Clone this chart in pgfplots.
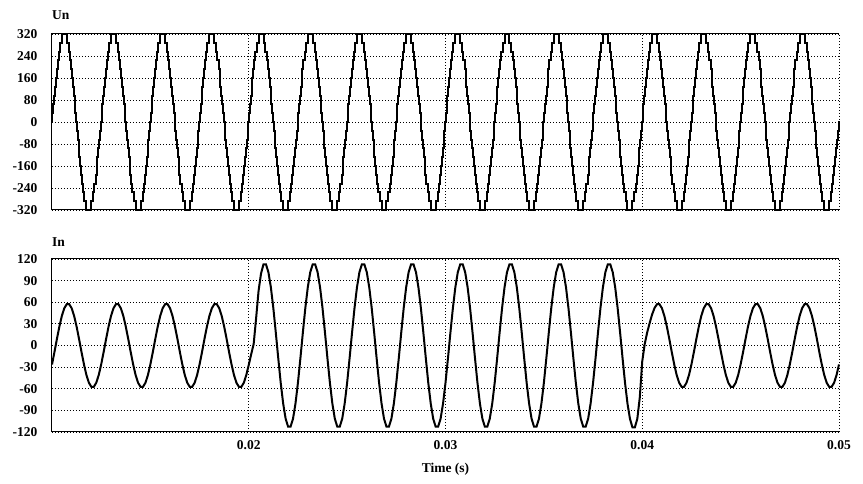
\documentclass[border=0pt]{standalone}
\usepackage{fontspec}
\setmainfont{Liberation Serif}
\usepackage{pgfplots}
\pgfplotsset{compat=1.18}
\newcommand\lblfont{\bfseries\fontsize{13.5}{15}\selectfont}
\pgfplotsset{
  myax/.style={
    scale only axis, width=787pt, anchor=south west,
    xmin=0.01, xmax=0.05, clip=false,
    xtick={0.02,0.03,0.04,0.05},
    scaled x ticks=false, scaled y ticks=false,
    axis line style={draw=none},
    major tick length=0pt,
    grid=major,
    major grid style={black, line width=0.8pt, dash pattern=on 1pt off 2pt},
    /pgf/number format/assume math mode=true,
    ticklabel style={font=\lblfont},
    yticklabel style={xshift=-11pt},
    xticklabel style={yshift=-5pt},
  }
}
\begin{document}
\begin{tikzpicture}
\path[use as bounding box] (0,0) rectangle (863pt,484pt);
% ---------------- Un ----------------
\begin{axis}[myax, at={(52pt,274pt)}, height=176pt,
  ymin=-320, ymax=320, ytick={-320,-240,-160,-80,0,80,160,240,320},
  xticklabels={}]
\addplot[const plot, black, line width=2pt] coordinates {
(0.01,0)
(0.01002,32)(0.01006,64)(0.01010,96)(0.01014,128)(0.01019,160)(0.01023,192)(0.01028,224)(0.01034,256)(0.01040,288)(0.01050,320)(0.01075,288)(0.01085,256)(0.01091,224)(0.01097,192)(0.01102,160)(0.01106,128)(0.01111,96)(0.01115,64)(0.01119,32)(0.01123,0)(0.01127,-32)(0.01131,-64)(0.01135,-96)(0.01139,-128)(0.01144,-160)(0.01148,-192)(0.01153,-224)(0.01159,-256)(0.01165,-288)(0.01175,-320)(0.01200,-288)(0.01210,-256)(0.01216,-224)(0.01222,-192)(0.01227,-160)(0.01231,-128)(0.01236,-96)(0.01240,-64)(0.01244,-32)(0.01248,0)
(0.01252,32)(0.01256,64)(0.01260,96)(0.01264,128)(0.01269,160)(0.01273,192)(0.01278,224)(0.01284,256)(0.01290,288)(0.01300,320)(0.01325,288)(0.01335,256)(0.01341,224)(0.01347,192)(0.01352,160)(0.01356,128)(0.01361,96)(0.01365,64)(0.01369,32)(0.01373,0)(0.01377,-32)(0.01381,-64)(0.01385,-96)(0.01389,-128)(0.01394,-160)(0.01398,-192)(0.01403,-224)(0.01409,-256)(0.01415,-288)(0.01425,-320)(0.01450,-288)(0.01460,-256)(0.01466,-224)(0.01472,-192)(0.01477,-160)(0.01481,-128)(0.01486,-96)(0.01490,-64)(0.01494,-32)(0.01498,0)
(0.01502,32)(0.01506,64)(0.01510,96)(0.01514,128)(0.01519,160)(0.01523,192)(0.01528,224)(0.01534,256)(0.01540,288)(0.01550,320)(0.01575,288)(0.01585,256)(0.01591,224)(0.01597,192)(0.01602,160)(0.01606,128)(0.01611,96)(0.01615,64)(0.01619,32)(0.01623,0)(0.01627,-32)(0.01631,-64)(0.01635,-96)(0.01639,-128)(0.01644,-160)(0.01648,-192)(0.01653,-224)(0.01659,-256)(0.01665,-288)(0.01675,-320)(0.01700,-288)(0.01710,-256)(0.01716,-224)(0.01722,-192)(0.01727,-160)(0.01731,-128)(0.01736,-96)(0.01740,-64)(0.01744,-32)(0.01748,0)
(0.01752,32)(0.01756,64)(0.01760,96)(0.01764,128)(0.01769,160)(0.01773,192)(0.01778,224)(0.01784,256)(0.01790,288)(0.01800,320)(0.01825,288)(0.01835,256)(0.01841,224)(0.01847,192)(0.01852,160)(0.01856,128)(0.01861,96)(0.01865,64)(0.01869,32)(0.01873,0)(0.01877,-32)(0.01881,-64)(0.01885,-96)(0.01889,-128)(0.01894,-160)(0.01898,-192)(0.01903,-224)(0.01909,-256)(0.01915,-288)(0.01925,-320)(0.01950,-288)(0.01960,-256)(0.01966,-224)(0.01972,-192)(0.01977,-160)(0.01981,-128)(0.01986,-96)(0.01990,-64)(0.01994,-32)(0.01998,0)
(0.02002,32)(0.02006,64)(0.02010,96)(0.02014,128)(0.02019,160)(0.02023,192)(0.02028,224)(0.02034,256)(0.02040,288)(0.02050,320)(0.02075,288)(0.02085,256)(0.02091,224)(0.02097,192)(0.02102,160)(0.02106,128)(0.02111,96)(0.02115,64)(0.02119,32)(0.02123,0)(0.02127,-32)(0.02131,-64)(0.02135,-96)(0.02139,-128)(0.02144,-160)(0.02148,-192)(0.02153,-224)(0.02159,-256)(0.02165,-288)(0.02175,-320)(0.02200,-288)(0.02210,-256)(0.02216,-224)(0.02222,-192)(0.02227,-160)(0.02231,-128)(0.02236,-96)(0.02240,-64)(0.02244,-32)(0.02248,0)
(0.02252,32)(0.02256,64)(0.02260,96)(0.02264,128)(0.02269,160)(0.02273,192)(0.02278,224)(0.02284,256)(0.02290,288)(0.02300,320)(0.02325,288)(0.02335,256)(0.02341,224)(0.02347,192)(0.02352,160)(0.02356,128)(0.02361,96)(0.02365,64)(0.02369,32)(0.02373,0)(0.02377,-32)(0.02381,-64)(0.02385,-96)(0.02389,-128)(0.02394,-160)(0.02398,-192)(0.02403,-224)(0.02409,-256)(0.02415,-288)(0.02425,-320)(0.02450,-288)(0.02460,-256)(0.02466,-224)(0.02472,-192)(0.02477,-160)(0.02481,-128)(0.02486,-96)(0.02490,-64)(0.02494,-32)(0.02498,0)
(0.02502,32)(0.02506,64)(0.02510,96)(0.02514,128)(0.02519,160)(0.02523,192)(0.02528,224)(0.02534,256)(0.02540,288)(0.02550,320)(0.02575,288)(0.02585,256)(0.02591,224)(0.02597,192)(0.02602,160)(0.02606,128)(0.02611,96)(0.02615,64)(0.02619,32)(0.02623,0)(0.02627,-32)(0.02631,-64)(0.02635,-96)(0.02639,-128)(0.02644,-160)(0.02648,-192)(0.02653,-224)(0.02659,-256)(0.02665,-288)(0.02675,-320)(0.02700,-288)(0.02710,-256)(0.02716,-224)(0.02722,-192)(0.02727,-160)(0.02731,-128)(0.02736,-96)(0.02740,-64)(0.02744,-32)(0.02748,0)
(0.02752,32)(0.02756,64)(0.02760,96)(0.02764,128)(0.02769,160)(0.02773,192)(0.02778,224)(0.02784,256)(0.02790,288)(0.02800,320)(0.02825,288)(0.02835,256)(0.02841,224)(0.02847,192)(0.02852,160)(0.02856,128)(0.02861,96)(0.02865,64)(0.02869,32)(0.02873,0)(0.02877,-32)(0.02881,-64)(0.02885,-96)(0.02889,-128)(0.02894,-160)(0.02898,-192)(0.02903,-224)(0.02909,-256)(0.02915,-288)(0.02925,-320)(0.02950,-288)(0.02960,-256)(0.02966,-224)(0.02972,-192)(0.02977,-160)(0.02981,-128)(0.02986,-96)(0.02990,-64)(0.02994,-32)(0.02998,0)
(0.03002,32)(0.03006,64)(0.03010,96)(0.03014,128)(0.03019,160)(0.03023,192)(0.03028,224)(0.03034,256)(0.03040,288)(0.03050,320)(0.03075,288)(0.03085,256)(0.03091,224)(0.03097,192)(0.03102,160)(0.03106,128)(0.03111,96)(0.03115,64)(0.03119,32)(0.03123,0)(0.03127,-32)(0.03131,-64)(0.03135,-96)(0.03139,-128)(0.03144,-160)(0.03148,-192)(0.03153,-224)(0.03159,-256)(0.03165,-288)(0.03175,-320)(0.03200,-288)(0.03210,-256)(0.03216,-224)(0.03222,-192)(0.03227,-160)(0.03231,-128)(0.03236,-96)(0.03240,-64)(0.03244,-32)(0.03248,0)
(0.03252,32)(0.03256,64)(0.03260,96)(0.03264,128)(0.03269,160)(0.03273,192)(0.03278,224)(0.03284,256)(0.03290,288)(0.03300,320)(0.03325,288)(0.03335,256)(0.03341,224)(0.03347,192)(0.03352,160)(0.03356,128)(0.03361,96)(0.03365,64)(0.03369,32)(0.03373,0)(0.03377,-32)(0.03381,-64)(0.03385,-96)(0.03389,-128)(0.03394,-160)(0.03398,-192)(0.03403,-224)(0.03409,-256)(0.03415,-288)(0.03425,-320)(0.03450,-288)(0.03460,-256)(0.03466,-224)(0.03472,-192)(0.03477,-160)(0.03481,-128)(0.03486,-96)(0.03490,-64)(0.03494,-32)(0.03498,0)
(0.03502,32)(0.03506,64)(0.03510,96)(0.03514,128)(0.03519,160)(0.03523,192)(0.03528,224)(0.03534,256)(0.03540,288)(0.03550,320)(0.03575,288)(0.03585,256)(0.03591,224)(0.03597,192)(0.03602,160)(0.03606,128)(0.03611,96)(0.03615,64)(0.03619,32)(0.03623,0)(0.03627,-32)(0.03631,-64)(0.03635,-96)(0.03639,-128)(0.03644,-160)(0.03648,-192)(0.03653,-224)(0.03659,-256)(0.03665,-288)(0.03675,-320)(0.03700,-288)(0.03710,-256)(0.03716,-224)(0.03722,-192)(0.03727,-160)(0.03731,-128)(0.03736,-96)(0.03740,-64)(0.03744,-32)(0.03748,0)
(0.03752,32)(0.03756,64)(0.03760,96)(0.03764,128)(0.03769,160)(0.03773,192)(0.03778,224)(0.03784,256)(0.03790,288)(0.03800,320)(0.03825,288)(0.03835,256)(0.03841,224)(0.03847,192)(0.03852,160)(0.03856,128)(0.03861,96)(0.03865,64)(0.03869,32)(0.03873,0)(0.03877,-32)(0.03881,-64)(0.03885,-96)(0.03889,-128)(0.03894,-160)(0.03898,-192)(0.03903,-224)(0.03909,-256)(0.03915,-288)(0.03925,-320)(0.03950,-288)(0.03960,-256)(0.03966,-224)(0.03972,-192)(0.03977,-160)(0.03981,-128)(0.03986,-96)(0.03990,-64)(0.03994,-32)(0.03998,0)
(0.04002,32)(0.04006,64)(0.04010,96)(0.04014,128)(0.04019,160)(0.04023,192)(0.04028,224)(0.04034,256)(0.04040,288)(0.04050,320)(0.04075,288)(0.04085,256)(0.04091,224)(0.04097,192)(0.04102,160)(0.04106,128)(0.04111,96)(0.04115,64)(0.04119,32)(0.04123,0)(0.04127,-32)(0.04131,-64)(0.04135,-96)(0.04139,-128)(0.04144,-160)(0.04148,-192)(0.04153,-224)(0.04159,-256)(0.04165,-288)(0.04175,-320)(0.04200,-288)(0.04210,-256)(0.04216,-224)(0.04222,-192)(0.04227,-160)(0.04231,-128)(0.04236,-96)(0.04240,-64)(0.04244,-32)(0.04248,0)
(0.04252,32)(0.04256,64)(0.04260,96)(0.04264,128)(0.04269,160)(0.04273,192)(0.04278,224)(0.04284,256)(0.04290,288)(0.04300,320)(0.04325,288)(0.04335,256)(0.04341,224)(0.04347,192)(0.04352,160)(0.04356,128)(0.04361,96)(0.04365,64)(0.04369,32)(0.04373,0)(0.04377,-32)(0.04381,-64)(0.04385,-96)(0.04389,-128)(0.04394,-160)(0.04398,-192)(0.04403,-224)(0.04409,-256)(0.04415,-288)(0.04425,-320)(0.04450,-288)(0.04460,-256)(0.04466,-224)(0.04472,-192)(0.04477,-160)(0.04481,-128)(0.04486,-96)(0.04490,-64)(0.04494,-32)(0.04498,0)
(0.04502,32)(0.04506,64)(0.04510,96)(0.04514,128)(0.04519,160)(0.04523,192)(0.04528,224)(0.04534,256)(0.04540,288)(0.04550,320)(0.04575,288)(0.04585,256)(0.04591,224)(0.04597,192)(0.04602,160)(0.04606,128)(0.04611,96)(0.04615,64)(0.04619,32)(0.04623,0)(0.04627,-32)(0.04631,-64)(0.04635,-96)(0.04639,-128)(0.04644,-160)(0.04648,-192)(0.04653,-224)(0.04659,-256)(0.04665,-288)(0.04675,-320)(0.04700,-288)(0.04710,-256)(0.04716,-224)(0.04722,-192)(0.04727,-160)(0.04731,-128)(0.04736,-96)(0.04740,-64)(0.04744,-32)(0.04748,0)
(0.04752,32)(0.04756,64)(0.04760,96)(0.04764,128)(0.04769,160)(0.04773,192)(0.04778,224)(0.04784,256)(0.04790,288)(0.04800,320)(0.04825,288)(0.04835,256)(0.04841,224)(0.04847,192)(0.04852,160)(0.04856,128)(0.04861,96)(0.04865,64)(0.04869,32)(0.04873,0)(0.04877,-32)(0.04881,-64)(0.04885,-96)(0.04889,-128)(0.04894,-160)(0.04898,-192)(0.04903,-224)(0.04909,-256)(0.04915,-288)(0.04925,-320)(0.04950,-288)(0.04960,-256)(0.04966,-224)(0.04972,-192)(0.04977,-160)(0.04981,-128)(0.04986,-96)(0.04990,-64)(0.04994,-32)(0.04998,0)
(0.05,0)
};
\draw[line width=1pt] (rel axis cs:1,1) -- (rel axis cs:0,1) -- (rel axis cs:0,0) -- (rel axis cs:1,0);
\end{axis}
% ---------------- In ----------------
\begin{axis}[myax, at={(52pt,52pt)}, height=173pt,
  ymin=-120, ymax=120, ytick={-120,-90,-60,-30,0,30,60,90,120},
  xticklabels={0.02,0.03,0.04,0.05},
  xlabel={Time (s)},
  xlabel style={at={(axis description cs:0.5,0)}, anchor=center, yshift=-37pt, font=\lblfont}]
\addplot[black, line width=2pt] coordinates {
(0.01,-26.3) (0.010125,-9.1) (0.01025,9.1) (0.010375,26.3) (0.0105,41.0) (0.010625,51.7) (0.01075,57.3) (0.010875,57.3) (0.011,51.7) (0.011125,41.0) (0.01125,26.3) (0.011375,9.1) (0.0115,-9.1) (0.011625,-26.3) (0.01175,-41.0) (0.011875,-51.7) (0.012,-57.3) (0.012125,-57.3) (0.01225,-51.7) (0.012375,-41.0)
(0.0125,-26.3) (0.012625,-9.1) (0.01275,9.1) (0.012875,26.3) (0.013,41.0) (0.013125,51.7) (0.01325,57.3) (0.013375,57.3) (0.0135,51.7) (0.013625,41.0) (0.01375,26.3) (0.013875,9.1) (0.014,-9.1) (0.014125,-26.3) (0.01425,-41.0) (0.014375,-51.7) (0.0145,-57.3) (0.014625,-57.3) (0.01475,-51.7) (0.014875,-41.0)
(0.015,-26.3) (0.015125,-9.1) (0.01525,9.1) (0.015375,26.3) (0.0155,41.0) (0.015625,51.7) (0.01575,57.3) (0.015875,57.3) (0.016,51.7) (0.016125,41.0) (0.01625,26.3) (0.016375,9.1) (0.0165,-9.1) (0.016625,-26.3) (0.01675,-41.0) (0.016875,-51.7) (0.017,-57.3) (0.017125,-57.3) (0.01725,-51.7) (0.017375,-41.0)
(0.0175,-26.3) (0.017625,-9.1) (0.01775,9.1) (0.017875,26.3) (0.018,41.0) (0.018125,51.7) (0.01825,57.3) (0.018375,57.3) (0.0185,51.7) (0.018625,41.0) (0.01875,26.3) (0.018875,9.1) (0.019,-9.1) (0.019125,-26.3) (0.01925,-41.0) (0.019375,-51.7) (0.0195,-57.3) (0.019625,-57.3) (0.01975,-51.7) (0.019875,-41.0)
(0.02,-27) (0.020125,-12) (0.02025,2) (0.020375,38) (0.0205,76) (0.020625,100) (0.02075,112.6) (0.020875,112.6) (0.021,101.6) (0.021125,80.6) (0.02125,51.8) (0.021375,17.8) (0.0215,-17.8) (0.021625,-51.8) (0.02175,-80.6) (0.021875,-101.6) (0.022,-112.6) (0.022125,-112.6) (0.02225,-101.6) (0.022375,-80.6)
(0.0225,-51.8) (0.022625,-17.8) (0.02275,17.8) (0.022875,51.8) (0.023,80.6) (0.023125,101.6) (0.02325,112.6) (0.023375,112.6) (0.0235,101.6) (0.023625,80.6) (0.02375,51.8) (0.023875,17.8) (0.024,-17.8) (0.024125,-51.8) (0.02425,-80.6) (0.024375,-101.6) (0.0245,-112.6) (0.024625,-112.6) (0.02475,-101.6) (0.024875,-80.6)
(0.025,-51.8) (0.025125,-17.8) (0.02525,17.8) (0.025375,51.8) (0.0255,80.6) (0.025625,101.6) (0.02575,112.6) (0.025875,112.6) (0.026,101.6) (0.026125,80.6) (0.02625,51.8) (0.026375,17.8) (0.0265,-17.8) (0.026625,-51.8) (0.02675,-80.6) (0.026875,-101.6) (0.027,-112.6) (0.027125,-112.6) (0.02725,-101.6) (0.027375,-80.6)
(0.0275,-51.8) (0.027625,-17.8) (0.02775,17.8) (0.027875,51.8) (0.028,80.6) (0.028125,101.6) (0.02825,112.6) (0.028375,112.6) (0.0285,101.6) (0.028625,80.6) (0.02875,51.8) (0.028875,17.8) (0.029,-17.8) (0.029125,-51.8) (0.02925,-80.6) (0.029375,-101.6) (0.0295,-112.6) (0.029625,-112.6) (0.02975,-101.6) (0.029875,-80.6)
(0.03,-51.8) (0.030125,-17.8) (0.03025,17.8) (0.030375,51.8) (0.0305,80.6) (0.030625,101.6) (0.03075,112.6) (0.030875,112.6) (0.031,101.6) (0.031125,80.6) (0.03125,51.8) (0.031375,17.8) (0.0315,-17.8) (0.031625,-51.8) (0.03175,-80.6) (0.031875,-101.6) (0.032,-112.6) (0.032125,-112.6) (0.03225,-101.6) (0.032375,-80.6)
(0.0325,-51.8) (0.032625,-17.8) (0.03275,17.8) (0.032875,51.8) (0.033,80.6) (0.033125,101.6) (0.03325,112.6) (0.033375,112.6) (0.0335,101.6) (0.033625,80.6) (0.03375,51.8) (0.033875,17.8) (0.034,-17.8) (0.034125,-51.8) (0.03425,-80.6) (0.034375,-101.6) (0.0345,-112.6) (0.034625,-112.6) (0.03475,-101.6) (0.034875,-80.6)
(0.035,-51.8) (0.035125,-17.8) (0.03525,17.8) (0.035375,51.8) (0.0355,80.6) (0.035625,101.6) (0.03575,112.6) (0.035875,112.6) (0.036,101.6) (0.036125,80.6) (0.03625,51.8) (0.036375,17.8) (0.0365,-17.8) (0.036625,-51.8) (0.03675,-80.6) (0.036875,-101.6) (0.037,-112.6) (0.037125,-112.6) (0.03725,-101.6) (0.037375,-80.6)
(0.0375,-51.8) (0.037625,-17.8) (0.03775,17.8) (0.037875,51.8) (0.038,80.6) (0.038125,101.6) (0.03825,112.6) (0.038375,112.6) (0.0385,101.6) (0.038625,80.6) (0.03875,51.8) (0.038875,17.8) (0.039,-17.8) (0.039125,-51.8) (0.03925,-80.6) (0.039375,-101.6) (0.0395,-113.5) (0.039625,-113.5) (0.03975,-101.6) (0.039875,-72)
(0.04,-22) (0.040125,2) (0.04025,18) (0.040375,31) (0.0405,43) (0.040625,52) (0.04075,57.3) (0.040875,57.3) (0.041,51.7) (0.041125,41.0) (0.04125,26.3) (0.041375,9.1) (0.0415,-9.1) (0.041625,-26.3) (0.04175,-41.0) (0.041875,-51.7) (0.042,-57.3) (0.042125,-57.3) (0.04225,-51.7) (0.042375,-41.0)
(0.0425,-26.3) (0.042625,-9.1) (0.04275,9.1) (0.042875,26.3) (0.043,41.0) (0.043125,51.7) (0.04325,57.3) (0.043375,57.3) (0.0435,51.7) (0.043625,41.0) (0.04375,26.3) (0.043875,9.1) (0.044,-9.1) (0.044125,-26.3) (0.04425,-41.0) (0.044375,-51.7) (0.0445,-57.3) (0.044625,-57.3) (0.04475,-51.7) (0.044875,-41.0)
(0.045,-26.3) (0.045125,-9.1) (0.04525,9.1) (0.045375,26.3) (0.0455,41.0) (0.045625,51.7) (0.04575,57.3) (0.045875,57.3) (0.046,51.7) (0.046125,41.0) (0.04625,26.3) (0.046375,9.1) (0.0465,-9.1) (0.046625,-26.3) (0.04675,-41.0) (0.046875,-51.7) (0.047,-57.3) (0.047125,-57.3) (0.04725,-51.7) (0.047375,-41.0)
(0.0475,-26.3) (0.047625,-9.1) (0.04775,9.1) (0.047875,26.3) (0.048,41.0) (0.048125,51.7) (0.04825,57.3) (0.048375,57.3) (0.0485,51.7) (0.048625,41.0) (0.04875,26.3) (0.048875,9.1) (0.049,-9.1) (0.049125,-26.3) (0.04925,-41.0) (0.049375,-51.7) (0.0495,-57.3) (0.049625,-57.3) (0.04975,-51.7) (0.049875,-41.0)
(0.05,-26.3)
};
\draw[line width=1pt] (rel axis cs:1,1) -- (rel axis cs:0,1) -- (rel axis cs:0,0) -- (rel axis cs:1,0);
\end{axis}
\node[anchor=west, font=\lblfont, inner sep=0pt] at (52pt,469pt) {Un};
\node[anchor=west, font=\lblfont, inner sep=0pt] at (52pt,242pt) {In};
\end{tikzpicture}
\end{document}
